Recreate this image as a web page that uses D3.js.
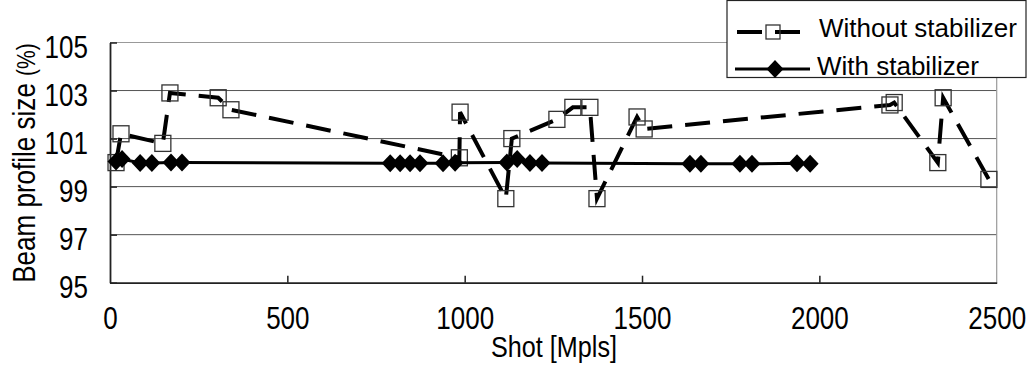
<!DOCTYPE html>
<html lang="en">
<head>
<meta charset="utf-8">
<title>Beam profile size</title>
<script src="https://cdn.jsdelivr.net/npm/d3@7"></script>
<style>
    body { margin: 0; background: #fff; }
    svg { display: block; font-family: "Liberation Sans", Arial, sans-serif; }
</style>
</head>
<body>
<svg width="1030" height="365"></svg>
<script>
// data
var shotWithout = [17, 31, 149, 169, 305, 341, 985, 987, 1116, 1133, 1260, 1305, 1353, 1373, 1486, 1506, 2199, 2211, 2334, 2349, 2478];
var sizeWithout = [100.0, 101.2, 100.8, 102.9, 102.7, 102.2, 100.2, 102.1, 98.5, 101.0, 101.8, 102.3, 102.3, 98.5, 101.9, 101.4, 102.4, 102.5, 100.0, 102.7, 99.3];
var shotWith = [17, 34, 85, 118, 172, 203, 790, 818, 846, 874, 939, 973, 1119, 1148, 1184, 1218, 1635, 1666, 1776, 1810, 1937, 1974];
var sizeWith = [100.05, 100.15, 99.98, 99.98, 100.0, 100.0, 99.97, 99.97, 99.97, 99.97, 99.97, 99.99, 100.0, 100.15, 99.98, 99.98, 99.95, 99.95, 99.95, 99.95, 99.97, 99.95];
var xTicks = [0, 500, 1000, 1500, 2000, 2500];
var yTicks = [95, 97, 99, 101, 103, 105];
var seriesNames = ["Without stabilizer", "With stabilizer"];

var squash = 0.84; // the original text is narrow and tall
var svg = d3.select("svg");
var x = d3.scaleLinear().domain([0, 2500]).range([110, 996.7]);
var y = d3.scaleLinear().domain([95, 105]).range([282.7, 42.5]);

// grid lines
svg.append("g").selectAll("line")
    .data(yTicks.slice(1, -1))
    .enter().append("line")
    .attr("x1", x(0)).attr("x2", x(2500))
    .attr("y1", function (d) { return y(d); })
    .attr("y2", function (d) { return y(d); })
    .attr("stroke", "#555").attr("stroke-width", 1);

// top and right frame
svg.append("line").attr("x1", x(0)).attr("x2", x(2500)).attr("y1", y(105)).attr("y2", y(105))
    .attr("stroke", "#999").attr("stroke-width", 1.2);
svg.append("line").attr("x1", x(2500)).attr("x2", x(2500)).attr("y1", y(105)).attr("y2", y(95))
    .attr("stroke", "#999").attr("stroke-width", 1.2);

// axes
var yAxis = svg.append("g")
    .attr("transform", "translate(" + x(0) + ",0)")
    .call(d3.axisLeft(y).tickValues(yTicks).tickSizeInner(-7).tickSizeOuter(0).tickPadding(22));
var xAxis = svg.append("g")
    .attr("transform", "translate(0," + y(95) + ")")
    .call(d3.axisBottom(x).tickValues(xTicks).tickFormat(d3.format("d")).tickSizeInner(-7).tickSizeOuter(0));

[yAxis, xAxis].forEach(function (g) {
    g.select(".domain").attr("stroke", "#222").attr("stroke-width", 1.8);
    g.selectAll(".tick line").attr("stroke", "#222").attr("stroke-width", 1.5);
    g.selectAll("text").attr("fill", "#000").style("font-size", "31px");
});
yAxis.selectAll(".tick text")
    .attr("transform", function () { return "translate(" + d3.select(this).attr("x") + ",4) scale(" + squash + ",1)"; })
    .attr("x", 0).attr("dy", "0.35em");
xAxis.selectAll(".tick text")
    .attr("y", 35).attr("dy", "0.35em")
    .attr("transform", "scale(" + squash + ",1)");
xAxis.selectAll(".tick").filter(function (d) { return d == 2500 || d == 0; }).select("line").remove();

// axis titles
svg.append("text")
    .attr("transform", "translate(554,346) scale(" + squash + ",1)")
    .attr("text-anchor", "middle").attr("dy", "0.35em")
    .style("font-size", "30px")
    .text("Shot [Mpls]");
var yTitle = svg.append("text")
    .attr("transform", "translate(24,163) rotate(-90) scale(" + squash + ",1)")
    .attr("text-anchor", "middle").attr("dy", "0.35em")
    .style("font-size", "31px");
yTitle.append("tspan").text("Beam profile size ");
yTitle.append("tspan").style("font-size", "25px").text("(%)");

// series
var line = d3.line().x(function (d) { return x(d[0]); }).y(function (d) { return y(d[1]); });
var without = d3.zip(shotWithout, sizeWithout);
var withS = d3.zip(shotWith, sizeWith);
var diamond = "M0,-9L8.5,0L0,9L-8.5,0Z";

svg.append("path")
    .datum(without)
    .attr("d", line)
    .attr("fill", "none").attr("stroke", "#000")
    .attr("stroke-width", 4).attr("stroke-dasharray", "25,13");
svg.append("g").selectAll("rect")
    .data(without)
    .enter().append("rect")
    .attr("x", function (d) { return x(d[0]) - 8; })
    .attr("y", function (d) { return y(d[1]) - 8; })
    .attr("width", 16).attr("height", 16)
    .attr("fill", "none").attr("stroke", "#333").attr("stroke-width", 1.3);

svg.append("path")
    .datum(withS)
    .attr("d", line)
    .attr("fill", "none").attr("stroke", "#000").attr("stroke-width", 3);
svg.append("g").selectAll("path")
    .data(withS)
    .enter().append("path")
    .attr("transform", function (d) { return "translate(" + x(d[0]) + "," + y(d[1]) + ")"; })
    .attr("d", diamond)
    .attr("fill", "#000");

// legend
var legend = svg.append("g");
legend.append("rect")
    .attr("x", 727).attr("y", 0.5).attr("width", 299).attr("height", 77)
    .attr("fill", "#fff").attr("stroke", "#222").attr("stroke-width", 1.2);
legend.append("line")
    .attr("x1", 737).attr("x2", 800).attr("y1", 32).attr("y2", 32)
    .attr("stroke", "#000").attr("stroke-width", 4).attr("stroke-dasharray", "25,13");
legend.append("rect")
    .attr("x", 766).attr("y", 25).attr("width", 14).attr("height", 14)
    .attr("fill", "none").attr("stroke", "#333").attr("stroke-width", 1.3);
legend.append("line")
    .attr("x1", 735).attr("x2", 810).attr("y1", 69).attr("y2", 69)
    .attr("stroke", "#000").attr("stroke-width", 3);
legend.append("path")
    .attr("transform", "translate(775,69)")
    .attr("d", diamond)
    .attr("fill", "#000");
legend.selectAll("text")
    .data(seriesNames)
    .enter().append("text")
    .attr("x", function (d, i) { return i == 0 ? 819 : 817; })
    .attr("y", function (d, i) { return i == 0 ? 37 : 75; })
    .style("font-size", "26px")
    .text(function (d) { return d; });
</script>
</body>
</html>
